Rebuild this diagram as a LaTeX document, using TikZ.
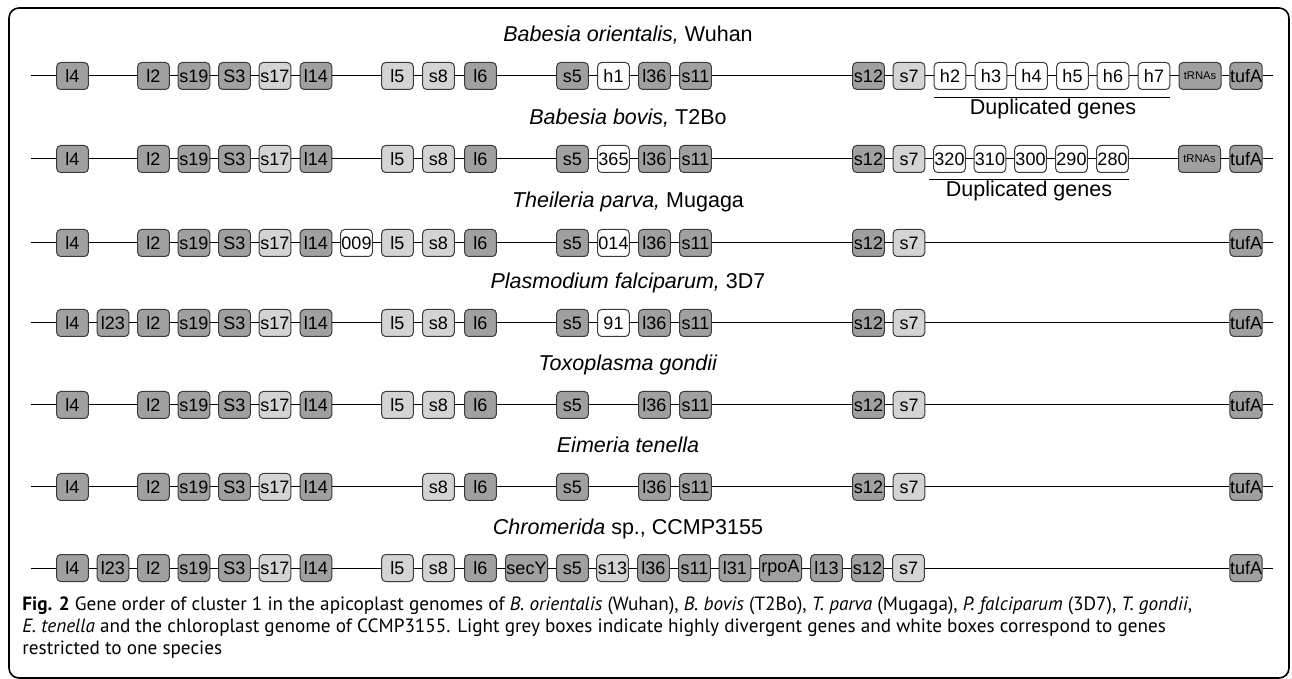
\documentclass[tikz,border=0pt]{standalone}
\usepackage{fontspec}
\setmainfont{Liberation Sans}
\newfontfamily\capfont{PT Sans}
\usetikzlibrary{positioning}
\definecolor{gndark}{HTML}{A0A0A0}
\definecolor{gnlight}{HTML}{D4D4D4}
\definecolor{gnedge}{HTML}{3A3A3A}

\begin{document}
\begin{tikzpicture}[x=0.5pt, y=-0.5pt,
  gene/.style={rectangle, rounded corners=2pt, draw=gnedge, line width=0.5pt, minimum width=15.8pt, minimum height=13.5pt, inner sep=0pt, font=\fontsize{9}{9}\selectfont},
  dk/.style={gene, fill=gndark},
  lt/.style={gene, fill=gnlight},
  wt/.style={gene, fill=white},
  dkw/.style={dk, minimum width=21pt},
  trna/.style={dkw, font=\fontsize{5.6}{6}\selectfont},
  endpt/.style={coordinate},
  link/.style={line width=0.5pt, black},
  species/.style={font=\fontsize{10.75}{12}\selectfont, anchor=base},
]
\useasboundingbox (0,0) rectangle (1292,679);
\draw[line width=0.8pt, rounded corners=5pt] (9,8) rectangle (1289,678);

% Babesia orientalis
\node[species] (t-bo) at (628,42) {\textit{Babesia orientalis,} Wuhan};
\coordinate (bo-st) at (31,76);
\foreach \x/\n/\t/\s [remember=\n as \p (initially st)] in {72.5/l4/l4/dk, 153.5/l2/l2/dk, 194/s19/s19/dk, 234.5/S3/S3/dk, 275/s17/s17/lt, 316/l14/l14/dk, 397.5/l5/l5/lt, 438.5/s8/s8/lt, 480.5/l6/l6/dk, 572.5/s5/s5/dk, 613.5/h1/h1/wt, 654.5/l36/l36/dk, 695.5/s11/s11/dk, 868.5/s12/s12/dk, 909/s7/s7/lt, 950/h2/h2/wt, 991/h3/h3/wt, 1031.5/h4/h4/wt, 1072.5/h5/h5/wt, 1113/h6/h6/wt, 1154/h7/h7/wt, 1200/trna/tRNAs/trna, 1246/tufA/tufA/dk, 1273/en//endpt}
{
  \node[\s] (bo-\n) at (\x,76) {\t};
  \draw[link] (bo-\p) -- (bo-\n);
}
\draw[link] ([yshift=-3.75pt]bo-h2.south west) -- ([yshift=-3.75pt]bo-h7.south east);
\node[species] (bo-dup) at (1053,115) {Duplicated genes};

% Babesia bovis
\node[species] (t-bb) at (628,125) {\textit{Babesia bovis,} T2Bo};
\coordinate (bb-st) at (31,159);
\foreach \x/\n/\t/\s [remember=\n as \p (initially st)] in {72.5/l4/l4/dk, 153.5/l2/l2/dk, 194/s19/s19/dk, 234.5/S3/S3/dk, 275/s17/s17/lt, 316/l14/l14/dk, 397.5/l5/l5/lt, 438.5/s8/s8/lt, 480.5/l6/l6/dk, 572.5/s5/s5/dk, 613.5/g365/365/wt, 654.5/l36/l36/dk, 695.5/s11/s11/dk, 868.5/s12/s12/dk, 909/s7/s7/lt, 949.5/g320/320/wt, 990/g310/310/wt, 1030.5/g300/300/wt, 1071.5/g290/290/wt, 1112.5/g280/280/wt, 1199.5/trna/tRNAs/trna, 1246/tufA/tufA/dk, 1273/en//endpt}
{
  \node[\s] (bb-\n) at (\x,159) {\t};
  \draw[link] (bb-\p) -- (bb-\n);
}
\draw[link] ([xshift=-2pt,yshift=-3.5pt]bb-g320.south west) -- ([yshift=-3.5pt]bb-g280.south east);
\node[species] (bb-dup) at (1029,197) {Duplicated genes};

% Theileria parva
\node[species] (t-tp) at (628,208) {\textit{Theileria parva,} Mugaga};
\coordinate (tp-st) at (31,243);
\foreach \x/\n/\t/\s [remember=\n as \p (initially st)] in {72.5/l4/l4/dk, 153.5/l2/l2/dk, 194/s19/s19/dk, 234.5/S3/S3/dk, 275/s17/s17/lt, 316/l14/l14/dk, 356.5/g009/009/wt, 397.5/l5/l5/lt, 438.5/s8/s8/lt, 480.5/l6/l6/dk, 572.5/s5/s5/dk, 613.5/g014/014/wt, 654.5/l36/l36/dk, 695.5/s11/s11/dk, 868.5/s12/s12/dk, 909/s7/s7/lt, 1246/tufA/tufA/dk, 1273/en//endpt}
{
  \node[\s] (tp-\n) at (\x,243) {\t};
  \draw[link] (tp-\p) -- (tp-\n);
}

% Plasmodium falciparum
\node[species] (t-pf) at (628,289) {\textit{Plasmodium falciparum,} 3D7};
\coordinate (pf-st) at (31,323);
\foreach \x/\n/\t/\s [remember=\n as \p (initially st)] in {72.5/l4/l4/dk, 113/l23/l23/dk, 153.5/l2/l2/dk, 194/s19/s19/dk, 234.5/S3/S3/dk, 275/s17/s17/lt, 316/l14/l14/dk, 397.5/l5/l5/lt, 438.5/s8/s8/lt, 480.5/l6/l6/dk, 572.5/s5/s5/dk, 613.5/g91/91/wt, 654.5/l36/l36/dk, 695.5/s11/s11/dk, 868.5/s12/s12/dk, 909/s7/s7/lt, 1246/tufA/tufA/dk, 1273/en//endpt}
{
  \node[\s] (pf-\n) at (\x,323) {\t};
  \draw[link] (pf-\p) -- (pf-\n);
}

% Toxoplasma gondii
\node[species] (t-tg) at (628,371) {\textit{Toxoplasma gondii}};
\coordinate (tg-st) at (31,405);
\foreach \x/\n/\t/\s [remember=\n as \p (initially st)] in {72.5/l4/l4/dk, 153.5/l2/l2/dk, 194/s19/s19/dk, 234.5/S3/S3/dk, 275/s17/s17/lt, 316/l14/l14/dk, 397.5/l5/l5/lt, 438.5/s8/s8/lt, 480.5/l6/l6/dk, 572.5/s5/s5/dk, 654.5/l36/l36/dk, 695.5/s11/s11/dk, 868.5/s12/s12/dk, 909/s7/s7/lt, 1246/tufA/tufA/dk, 1273/en//endpt}
{
  \node[\s] (tg-\n) at (\x,405) {\t};
  \draw[link] (tg-\p) -- (tg-\n);
}

% Eimeria tenella
\node[species] (t-et) at (628,453) {\textit{Eimeria tenella}};
\coordinate (et-st) at (31,487);
\foreach \x/\n/\t/\s [remember=\n as \p (initially st)] in {72.5/l4/l4/dk, 153.5/l2/l2/dk, 194/s19/s19/dk, 234.5/S3/S3/dk, 275/s17/s17/lt, 316/l14/l14/dk, 438.5/s8/s8/lt, 480.5/l6/l6/dk, 572.5/s5/s5/dk, 654.5/l36/l36/dk, 695.5/s11/s11/dk, 868.5/s12/s12/dk, 909/s7/s7/lt, 1246/tufA/tufA/dk, 1273/en//endpt}
{
  \node[\s] (et-\n) at (\x,487) {\t};
  \draw[link] (et-\p) -- (et-\n);
}

% Chromerida
\node[species] (t-cr) at (628,534) {\textit{Chromerida} sp., CCMP3155};
\coordinate (cr-st) at (31,568);
\foreach \x/\n/\t/\s [remember=\n as \p (initially st)] in {72.5/l4/l4/dk, 113/l23/l23/dk, 153.5/l2/l2/dk, 194/s19/s19/dk, 234.5/S3/S3/dk, 275/s17/s17/lt, 316/l14/l14/dk, 397.5/l5/l5/lt, 438.5/s8/s8/lt, 480.5/l6/l6/dk, 526.5/secY/secY/dkw, 572.5/s5/s5/dk, 612.5/s13/s13/lt, 653.5/l36/l36/dk, 694.5/s11/s11/dk, 735/l31/l31/dk, 780.5/rpoA/rpoA/dkw, 826.5/l13/l13/dk, 867.5/s12/s12/dk, 908.5/s7/s7/lt, 1246/tufA/tufA/dk, 1273/en//endpt}
{
  \node[\s] (cr-\n) at (\x,568) {\t};
  \draw[link] (cr-\p) -- (cr-\n);
}

\node[anchor=base west, align=left, inner sep=0pt, font=\capfont\fontsize{9.6}{11}\selectfont] (caption) at (22,654)
  {\textbf{Fig. 2} Gene order of cluster 1 in the apicoplast genomes of \textit{B. orientalis} (Wuhan), \textit{B. bovis} (T2Bo), \textit{T. parva} (Mugaga), \textit{P. falciparum} (3D7), \textit{T. gondii},\\
   \textit{E. tenella} and the chloroplast genome of CCMP3155. Light grey boxes indicate highly divergent genes and white boxes correspond to genes\\
   restricted to one species};
\end{tikzpicture}
\end{document}
